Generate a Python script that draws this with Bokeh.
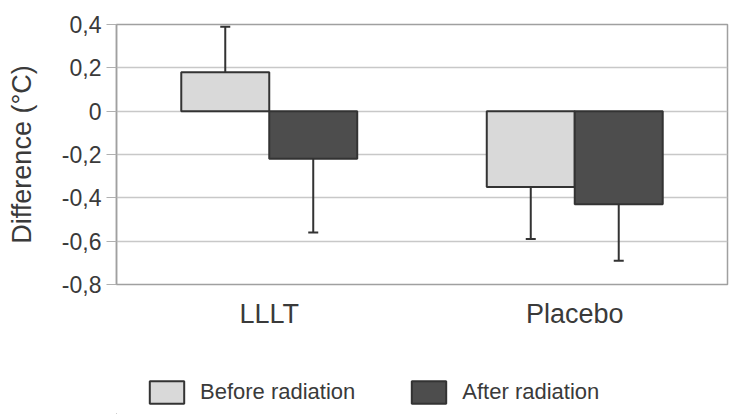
from bokeh.plotting import figure
from bokeh.layouts import column
from bokeh.models import (ColumnDataSource, FixedTicker, Legend, LegendItem,
                          Range1d)
from bokeh.embed import file_html
from bokeh.resources import INLINE

# ---- data ----
categories = ["LLLT", "Placebo"]
series_names = ["Before radiation", "After radiation"]
before_values = [0.18, -0.35]
after_values = [-0.22, -0.43]
before_err_end = [0.39, -0.59]
after_err_end = [-0.56, -0.69]
y_ticks = [0.4, 0.2, 0.0, -0.2, -0.4, -0.6, -0.8]
y_tick_labels = ["0,4", "0,2", "0", "-0,2", "-0,4", "-0,6", "-0,8"]

bar_w = 0.288
fills = ["#d9d9d9", "#4d4d4d"]
edge = "#333333"
text_color = "#3a3a3a"
font = "Liberation Sans"

p = figure(frame_width=611, frame_height=260, output_backend="svg",
           toolbar_location=None,
           x_range=Range1d(0, 2), y_range=Range1d(-0.8, 0.4),
           min_border_left=116, min_border_right=6, min_border_top=24,
           min_border_bottom=50)

p.background_fill_color = "white"
p.outline_line_color = "#a0a0a0"
p.outline_line_width = 1.5

for k, (vals, ends) in enumerate([(before_values, before_err_end),
                                  (after_values, after_err_end)]):
    xs = [i + 0.5 + (k - 0.5) * bar_w for i in range(len(categories))]
    src = ColumnDataSource(dict(x=xs, top=vals, bottom=[0] * len(vals),
                                lo=[min(v, e) for v, e in zip(vals, ends)],
                                hi=[max(v, e) for v, e in zip(vals, ends)]))
    p.vbar(x="x", width=bar_w, top="top", bottom="bottom", source=src,
           fill_color=fills[k], line_color=edge, line_width=2)
    p.segment(x0="x", x1="x", y0="lo", y1="hi", source=src,
              line_color=edge, line_width=2)
    cap_src = ColumnDataSource(dict(x=xs, y=ends))
    p.scatter(x="x", y="y", source=cap_src, marker="dash", size=10,
              line_color=edge, line_width=2)

p.xaxis.ticker = FixedTicker(ticks=[i + 0.5 for i in range(len(categories))])
p.xaxis.major_label_overrides = {i + 0.5: c for i, c in enumerate(categories)}
p.xaxis.axis_line_color = None
p.xaxis.major_tick_line_color = None
p.xaxis.minor_tick_line_color = None
p.xaxis.major_label_standoff = 8
p.xaxis.major_label_text_font_size = "27px"
p.xaxis.major_label_text_font = font
p.xaxis.major_label_text_color = text_color

p.yaxis.ticker = FixedTicker(ticks=y_ticks)
p.yaxis.major_label_overrides = {t: l for t, l in zip(y_ticks, y_tick_labels)}
p.yaxis.axis_line_color = "#a0a0a0"
p.yaxis.axis_line_width = 1.5
p.yaxis.major_tick_line_color = "#b0b0b0"
p.yaxis.major_tick_out = 10
p.yaxis.major_tick_in = 0
p.yaxis.minor_tick_line_color = None
p.yaxis.major_label_standoff = 5
p.yaxis.major_label_text_font_size = "23px"
p.yaxis.major_label_text_font = font
p.yaxis.major_label_text_color = text_color
p.yaxis.axis_label = "Difference (°C)"
p.yaxis.axis_label_text_font_size = "27px"
p.yaxis.axis_label_text_font = font
p.yaxis.axis_label_text_font_style = "normal"
p.yaxis.axis_label_text_color = text_color
p.yaxis.axis_label_standoff = 22

p.xgrid.grid_line_color = None
p.ygrid.grid_line_color = "#c8c8c8"
p.ygrid.grid_line_width = 1.5

# ---- legend strip (separate figure below the chart) ----
lg = figure(width=733, height=80, output_backend="svg", toolbar_location=None,
            x_axis_location=None, y_axis_location=None,
            x_range=Range1d(0, 1), y_range=Range1d(0, 1),
            min_border_left=0, min_border_right=0, min_border_top=0,
            min_border_bottom=0)
lg.outline_line_color = None
lg.xgrid.grid_line_color = None
lg.ygrid.grid_line_color = None
# off-range proxy renderers that only supply the legend swatches
legend_renderers = [lg.vbar(x=[-5], top=[0], bottom=[0], width=0.1,
                            fill_color=fills[k], line_color=edge, line_width=2)
                    for k in range(len(series_names))]
legend = Legend(items=[LegendItem(label=n, renderers=[r])
                       for n, r in zip(series_names, legend_renderers)],
                orientation="horizontal", location=(29, 8),
                glyph_width=43, glyph_height=28, label_standoff=12,
                spacing=52, padding=0, margin=0,
                border_line_color=None, background_fill_alpha=0,
                label_text_font_size="22px", label_text_font=font,
                label_text_color=text_color)
lg.add_layout(legend, "center")

layout = column(p, lg, spacing=0)
open("out.html", "w").write(file_html(layout, INLINE))
